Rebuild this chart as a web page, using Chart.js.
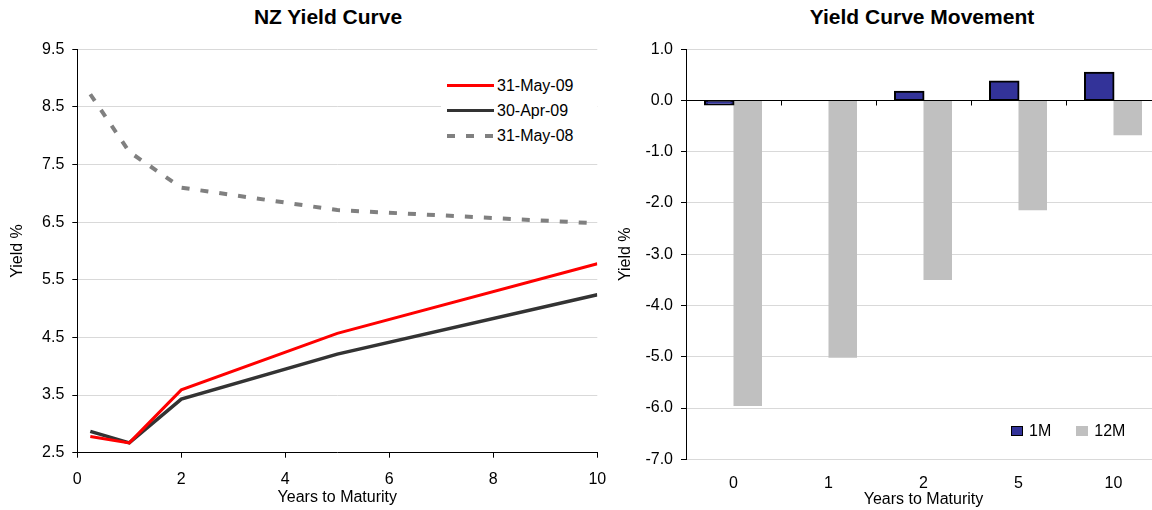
<!DOCTYPE html>
<html>
<head>
<meta charset="utf-8">
<title>NZ Yield Curve</title>
<script src="https://cdn.jsdelivr.net/npm/chart.js@4.4.1/dist/chart.umd.min.js"></script>
<style>
  html, body { margin: 0; padding: 0; background: #fff; }
  body {
    width: 1152px; height: 510px; overflow: hidden; position: relative;
    font-family: "Liberation Sans", Arial, sans-serif; color: #000;
  }
  canvas { position: absolute; top: 0; }
  #curveChart { left: 0; }
  #moveChart { left: 600px; }
  .title {
    position: absolute; top: 5px; width: 400px; text-align: center;
    font-weight: bold; font-size: 21px; line-height: 24px;
  }
  .legend { position: absolute; background: #fff; font-size: 16px; }
  .legend .row { display: flex; align-items: center; white-space: nowrap; }
  #curveLegend { left: 441px; top: 73px; width: 150px; padding-left: 6px; }
  #curveLegend .row { height: 25px; }
  #curveLegend .swatch { width: 47px; margin-right: 3px; }
  #moveLegend { left: 1011px; top: 421px; display: flex; background: transparent; }
  #moveLegend .row { height: 20px; margin-right: 25px; }
  #moveLegend .swatch { width: 12px; height: 10px; box-sizing: border-box; margin-right: 6px; }
</style>
</head>
<body>
  <div class="title" style="left: 128px;">NZ Yield Curve</div>
  <div class="title" style="left: 722px;">Yield Curve Movement</div>

  <canvas id="curveChart" width="620" height="510"></canvas>
  <canvas id="moveChart" width="565" height="510"></canvas>

  <div class="legend" id="curveLegend"></div>
  <div class="legend" id="moveLegend"></div>

<script>
/* ================= DATA ================= */
// years to maturity (90 day bill shown at 0.25)
const maturities = [0.25, 1, 2, 5, 10];
const may09 = [2.78, 2.67, 3.59, 4.57, 5.78];
const apr09 = [2.87, 2.67, 3.43, 4.21, 5.24];
const may08 = [8.72, 7.72, 7.10, 6.71, 6.48];
const curveNames = ["31-May-09", "30-Apr-09", "31-May-08"];

const moveLabels = ["0", "1", "2", "5", "10"];
const move1M = [-0.08, 0.0, 0.17, 0.37, 0.54];
const move12M = [-5.96, -5.02, -3.5, -2.14, -0.68];
const moveNames = ["1M", "12M"];

/* ================= COMMON ================= */
Chart.defaults.font.family = '"Liberation Sans", Arial, sans-serif';
Chart.defaults.font.size = 16;
Chart.defaults.color = "#000";

const GRID = "#d9d9d9";
const font16 = { size: 16 };

function toPoints(values) {
  return maturities.map((m, i) => ({ x: m, y: values[i] }));
}

/* ================= NZ YIELD CURVE ================= */
const curveSeries = [
  { label: curveNames[0], data: may09, color: "#ff0000", width: 3, dash: [] },
  { label: curveNames[1], data: apr09, color: "#333333", width: 3.5, dash: [] },
  { label: curveNames[2], data: may08, color: "#808080", width: 4, dash: [8, 11] },
];

new Chart(document.getElementById("curveChart"), {
  type: "line",
  data: {
    datasets: curveSeries.map((s) => ({
      label: s.label,
      data: toPoints(s.data),
      borderColor: s.color,
      backgroundColor: s.color,
      borderWidth: s.width,
      borderDash: s.dash,
      pointRadius: 0,
      tension: 0,
    })),
  },
  options: {
    responsive: false,
    animation: false,
    layout: { padding: { top: 49.3, right: 22.7, bottom: 0, left: 0 } },
    plugins: { legend: { display: false }, tooltip: { enabled: false } },
    scales: {
      x: {
        type: "linear",
        min: 0,
        max: 10,
        ticks: { stepSize: 2, padding: 12.7, font: font16 },
        grid: { drawOnChartArea: false, tickLength: 5, tickColor: "#000" },
        border: { color: "#000" },
        title: { display: true, text: "Years to Maturity", font: font16, padding: { top: 0, bottom: 2.4 } },
        afterFit: (s) => { s.height = 57.3; },
      },
      y: {
        min: 2.5,
        max: 9.5,
        ticks: { stepSize: 1, padding: 8, font: font16, callback: (v) => v.toFixed(1) },
        grid: { color: GRID, tickLength: 5, tickColor: "#000" },
        border: { color: "#000" },
        title: { display: true, text: "Yield %", font: font16, padding: { top: 8.4, bottom: 0 } },
        afterFit: (s) => { s.width = 77.3; },
      },
    },
  },
});

/* ================= YIELD CURVE MOVEMENT ================= */
// zero line + little ticks between categories, like the excel axis
const zeroAxis = {
  id: "zeroAxis",
  afterDatasetsDraw(chart) {
    const { ctx, scales: { x, y } } = chart;
    const y0 = Math.round(y.getPixelForValue(0)) + 0.5;
    ctx.save();
    ctx.strokeStyle = "#000";
    ctx.lineWidth = 1;
    ctx.beginPath();
    ctx.moveTo(x.left, y0);
    ctx.lineTo(x.right, y0);
    for (let i = 1; i < x.ticks.length; i++) {
      const px = Math.round((x.getPixelForTick(i - 1) + x.getPixelForTick(i)) / 2) + 0.5;
      ctx.moveTo(px, y0);
      ctx.lineTo(px, y0 + 5);
    }
    ctx.stroke();
    ctx.restore();
  },
};

const moveSeries = [
  { label: moveNames[0], data: move1M, fill: "#333399", border: "#000", width: 2 },
  { label: moveNames[1], data: move12M, fill: "#c0c0c0", border: "#c0c0c0", width: 0 },
];

new Chart(document.getElementById("moveChart"), {
  type: "bar",
  data: {
    labels: moveLabels,
    datasets: moveSeries.map((s) => ({
      label: s.label,
      data: s.data,
      backgroundColor: s.fill,
      borderColor: s.border,
      borderWidth: s.width,
      borderSkipped: false,
      // excel centres the outline on the bar edge, so grow bordered bars a bit
      inflateAmount: (c) => (s.width && c.raw !== 0 ? 1 : 0),
      categoryPercentage: 0.6,
      barPercentage: 1.0,
    })),
  },
  options: {
    responsive: false,
    animation: false,
    layout: { padding: { top: 49.2, right: 4, bottom: 0, left: 0 } },
    plugins: { legend: { display: false }, tooltip: { enabled: false } },
    scales: {
      x: {
        ticks: { padding: 15.1, font: font16 },
        grid: { display: false, drawTicks: false },
        border: { display: false },
        title: { display: true, text: "Years to Maturity", font: font16, padding: { top: 0, bottom: 0.4 } },
        afterFit: (s) => { s.height = 50.7; },
      },
      y: {
        min: -7,
        max: 1,
        ticks: { stepSize: 1, padding: 8, font: font16, callback: (v) => v.toFixed(1) },
        grid: {
          color: (c) => (c.tick && c.tick.value === 0 ? "#000" : GRID),
          tickLength: 5,
          tickColor: "#000",
        },
        border: { color: "#000" },
        title: { display: true, text: "Yield %", font: font16, padding: { top: 16.4, bottom: 0 } },
        afterFit: (s) => { s.width = 86; },
      },
    },
  },
  plugins: [zeroAxis],
});

/* ================= LEGENDS ================= */
const curveLegend = document.getElementById("curveLegend");
curveSeries.forEach((s) => {
  const row = document.createElement("div");
  row.className = "row";
  const sw = document.createElement("span");
  sw.className = "swatch";
  sw.style.height = s.width + "px";
  sw.style.background = s.dash.length
    ? `repeating-linear-gradient(to right, ${s.color} 0 ${s.dash[0]}px, transparent ${s.dash[0]}px ${s.dash[0] + s.dash[1]}px)`
    : s.color;
  const txt = document.createElement("span");
  txt.textContent = s.label;
  row.append(sw, txt);
  curveLegend.appendChild(row);
});

const moveLegend = document.getElementById("moveLegend");
moveSeries.forEach((s) => {
  const row = document.createElement("div");
  row.className = "row";
  const sw = document.createElement("span");
  sw.className = "swatch";
  sw.style.background = s.fill;
  if (s.width) sw.style.border = "1.5px solid " + s.border;
  const txt = document.createElement("span");
  txt.textContent = s.label;
  row.append(sw, txt);
  moveLegend.appendChild(row);
});
</script>
</body>
</html>
